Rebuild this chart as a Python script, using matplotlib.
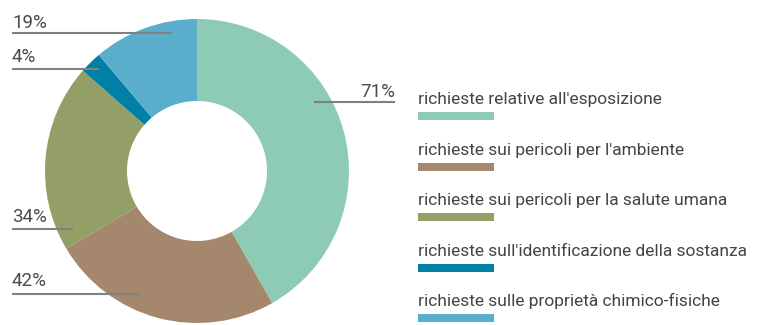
import matplotlib.pyplot as plt
from matplotlib.patches import Rectangle

plt.rcParams['font.family'] = ['Roboto', 'DejaVu Sans']

categories = [
    "richieste relative all'esposizione",
    "richieste sui pericoli per l'ambiente",
    "richieste sui pericoli per la salute umana",
    "richieste sull'identificazione della sostanza",
    "richieste sulle proprietà chimico-fisiche",
]
values = [71, 42, 34, 4, 19]
labels = ["71%", "42%", "34%", "4%", "19%"]
colors = ["#8dcbb6", "#a4876c", "#939f67", "#0080a6", "#5baecb"]

W, H = 759, 325
fig = plt.figure(figsize=(W / 100, H / 100), dpi=100)
ax = fig.add_axes([0, 0, 1, 1])

# donut, in pixel-like coordinates (y measured from the bottom)
cx, cy, r_out, r_in = 197, H - 171, 152, 70
ax.pie(values, colors=colors, startangle=90, counterclock=False,
       center=(cx, cy), radius=r_out,
       wedgeprops=dict(width=r_out - r_in, linewidth=0))

# percentage labels with leader lines: (text x, text baseline y, line y, line x0, line x1, align)
label_pos = {
    "71%": (395, 97, 102, 314, 395, "right"),
    "42%": (12, 286, 294, 12, 139, "left"),
    "34%": (12, 222, 229, 12, 73, "left"),
    "4%": (12, 62, 69, 12, 99, "left"),
    "19%": (12, 28, 33, 12, 172, "left"),
}
for lab in labels:
    tx, ty, ly, x0, x1, ha = label_pos[lab]
    ax.plot([x0, x1], [H - ly, H - ly], color="#808080", lw=1.5,
            solid_capstyle="butt", zorder=3)
    ax.text(tx, H - ty, lab, ha=ha, va="baseline", fontsize=13.5,
            color="#4a4a4a", fontweight="normal")

# legend: label above a coloured bar
for i, (name, col) in enumerate(zip(categories, colors)):
    ty = 104 + i * 50.5
    ax.text(418, H - ty, name, ha="left", va="baseline", fontsize=12.5,
            color="#444444", fontweight="normal")
    ax.add_patch(Rectangle((418, H - (ty + 16)), 76, 8, color=col, lw=0))

ax.set_xlim(0, W)
ax.set_ylim(0, H)
ax.set_aspect("auto")
ax.axis("off")

fig.savefig("out.png", dpi=100)
